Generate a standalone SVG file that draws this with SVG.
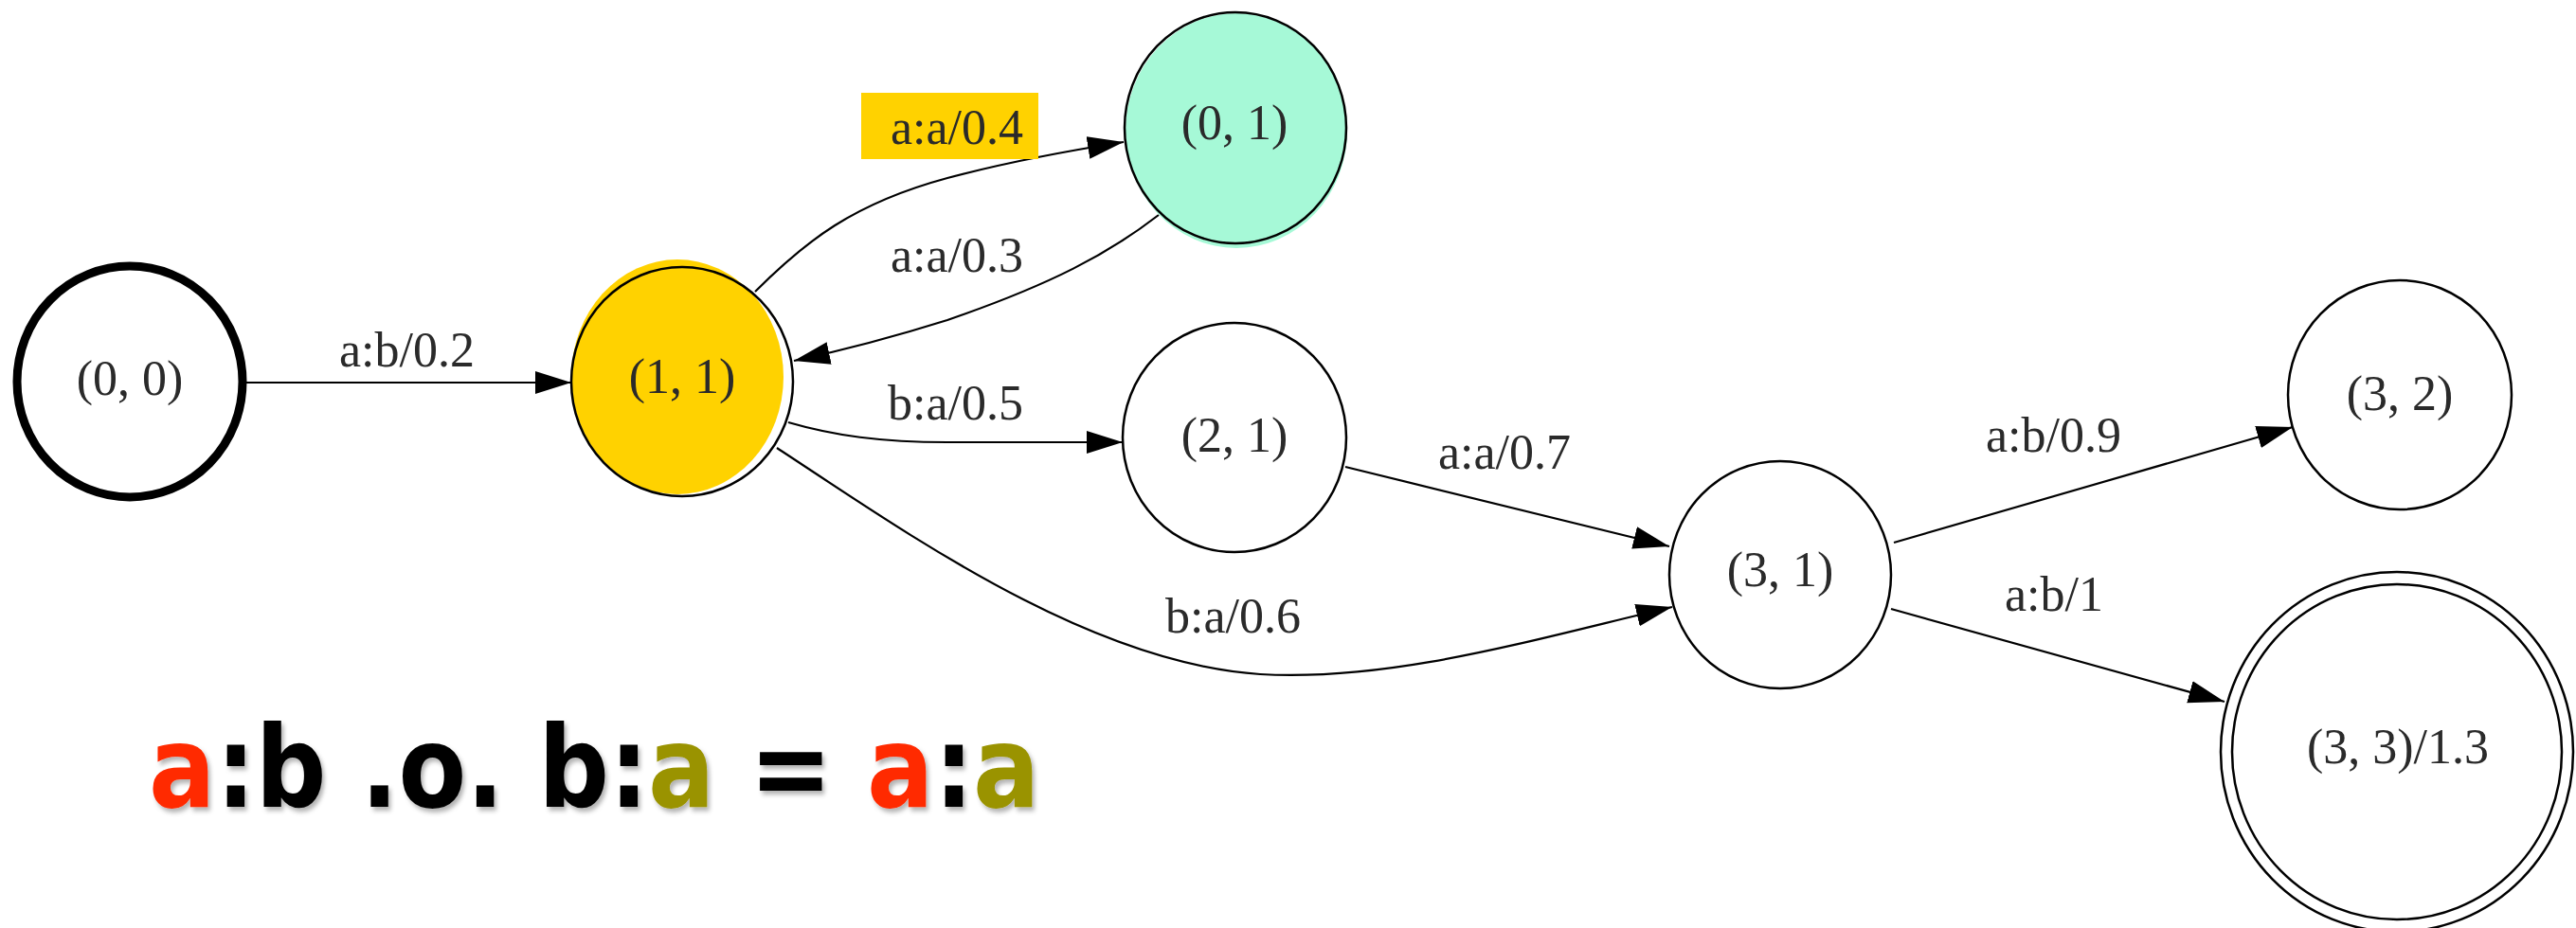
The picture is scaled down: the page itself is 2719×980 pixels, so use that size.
<svg xmlns="http://www.w3.org/2000/svg" width="2719" height="980" viewBox="0 0 2719 980">
<style>
.node { fill: #ffffff; stroke: #000000; stroke-width: 2.5; }
.lbl { font-family: "Liberation Serif", "Times New Roman", serif; font-size: 52px; fill: #2a2a2a; }
.nlbl { font-family: "Liberation Serif", "Times New Roman", serif; font-size: 52px; fill: #2a2a2a; text-anchor: middle; }
.edge { fill: none; stroke: #000000; stroke-width: 2.2; marker-end: url(#arrow); }
.formula { font-family: "DejaVu Sans", Verdana, sans-serif; font-weight: bold; font-size: 120px; fill: #000000; filter: url(#shadow); }
.red { fill: #FF2A00; }
.olive { fill: #9A9300; }
</style>
<defs>
<marker id="arrow" markerUnits="userSpaceOnUse" markerWidth="40" markerHeight="26" refX="38" refY="12" orient="auto">
<path d="M0,0 L38,12 L0,24 z" fill="#000000"/>
</marker>
<filter id="shadow" x="-10%" y="-20%" width="130%" height="150%">
<feDropShadow dx="3" dy="4" stdDeviation="2.5" flood-color="#000000" flood-opacity="0.3"/>
</filter>
</defs>

<g id="edges">
<path class="edge" d="M258,404 L603,404"/>
<path class="edge" d="M797,308 C850,255 900,215 1000,188 C1060,172 1110,162 1186,150"/>
<path class="edge" d="M1223,227 C1170,268 1110,300 1000,338 C930,360 880,372 838,381"/>
<path class="edge" d="M832,446 C880,460 930,467 1000,467 L1185,467"/>
<path class="edge" d="M1420,493 L1762,577"/>
<path class="edge" d="M820,473 C960,565 1150,700 1330,712 C1470,720 1620,675 1765,641"/>
<path class="edge" d="M1999,573 L2420,451"/>
<path class="edge" d="M1996,643 L2348,741"/>
</g>

<g id="edge-labels">
<text class="lbl" x="358" y="387">a:b/0.2</text>
<rect x="909" y="98" width="187" height="70" fill="#FFD200"/>
<text class="lbl" x="940" y="152">a:a/0.4</text>
<text class="lbl" x="940" y="287">a:a/0.3</text>
<text class="lbl" x="937" y="443">b:a/0.5</text>
<text class="lbl" x="1518" y="495">a:a/0.7</text>
<text class="lbl" x="1230" y="668">b:a/0.6</text>
<text class="lbl" x="2096" y="477">a:b/0.9</text>
<text class="lbl" x="2116" y="645">a:b/1</text>
</g>

<g id="node-0-0">
<ellipse cx="137" cy="403" rx="119" ry="122" fill="#ffffff" stroke="#000000" stroke-width="9"/>
<text class="nlbl" x="137" y="417">(0, 0)</text>
</g>

<g id="node-1-1">
<ellipse cx="715" cy="398" rx="112" ry="124" fill="#FFD200"/>
<ellipse cx="720" cy="403" rx="117" ry="121" fill="none" stroke="#000000" stroke-width="2.5"/>
<text class="nlbl" x="720" y="415">(1, 1)</text>
</g>

<g id="node-0-1">
<ellipse cx="1305" cy="138" rx="117" ry="124" fill="#A6F9D7"/>
<ellipse cx="1304" cy="135" rx="117" ry="122" fill="none" stroke="#000000" stroke-width="2.5"/>
<text class="nlbl" x="1303" y="147">(0, 1)</text>
</g>

<g id="node-2-1">
<ellipse class="node" cx="1303" cy="462" rx="118" ry="121"/>
<text class="nlbl" x="1303" y="477">(2, 1)</text>
</g>

<g id="node-3-1">
<ellipse class="node" cx="1879" cy="607" rx="117" ry="120"/>
<text class="nlbl" x="1879" y="619">(3, 1)</text>
</g>

<g id="node-3-2">
<ellipse class="node" cx="2533" cy="417" rx="118" ry="121"/>
<text class="nlbl" x="2533" y="433">(3, 2)</text>
</g>

<g id="node-3-3">
<ellipse class="node" cx="2530" cy="794" rx="186" ry="190"/>
<ellipse class="node" cx="2530" cy="794" rx="174" ry="177" fill="none"/>
<text class="nlbl" x="2531" y="806">(3, 3)/1.3</text>
</g>

<g id="formula">
<text class="formula red" transform="translate(157,852) scale(0.87,1)">a</text>
<text class="formula" transform="translate(228,852) scale(0.87,1)">:b .o. b:</text>
<text class="formula olive" transform="translate(684,852) scale(0.87,1)">a</text>
<text class="formula" transform="translate(791,852) scale(0.87,1)">=</text>
<text class="formula red" transform="translate(915,852) scale(0.87,1)">a</text>
<text class="formula" transform="translate(986,852) scale(0.87,1)">:</text>
<text class="formula olive" transform="translate(1027,852) scale(0.87,1)">a</text>
</g>
</svg>
